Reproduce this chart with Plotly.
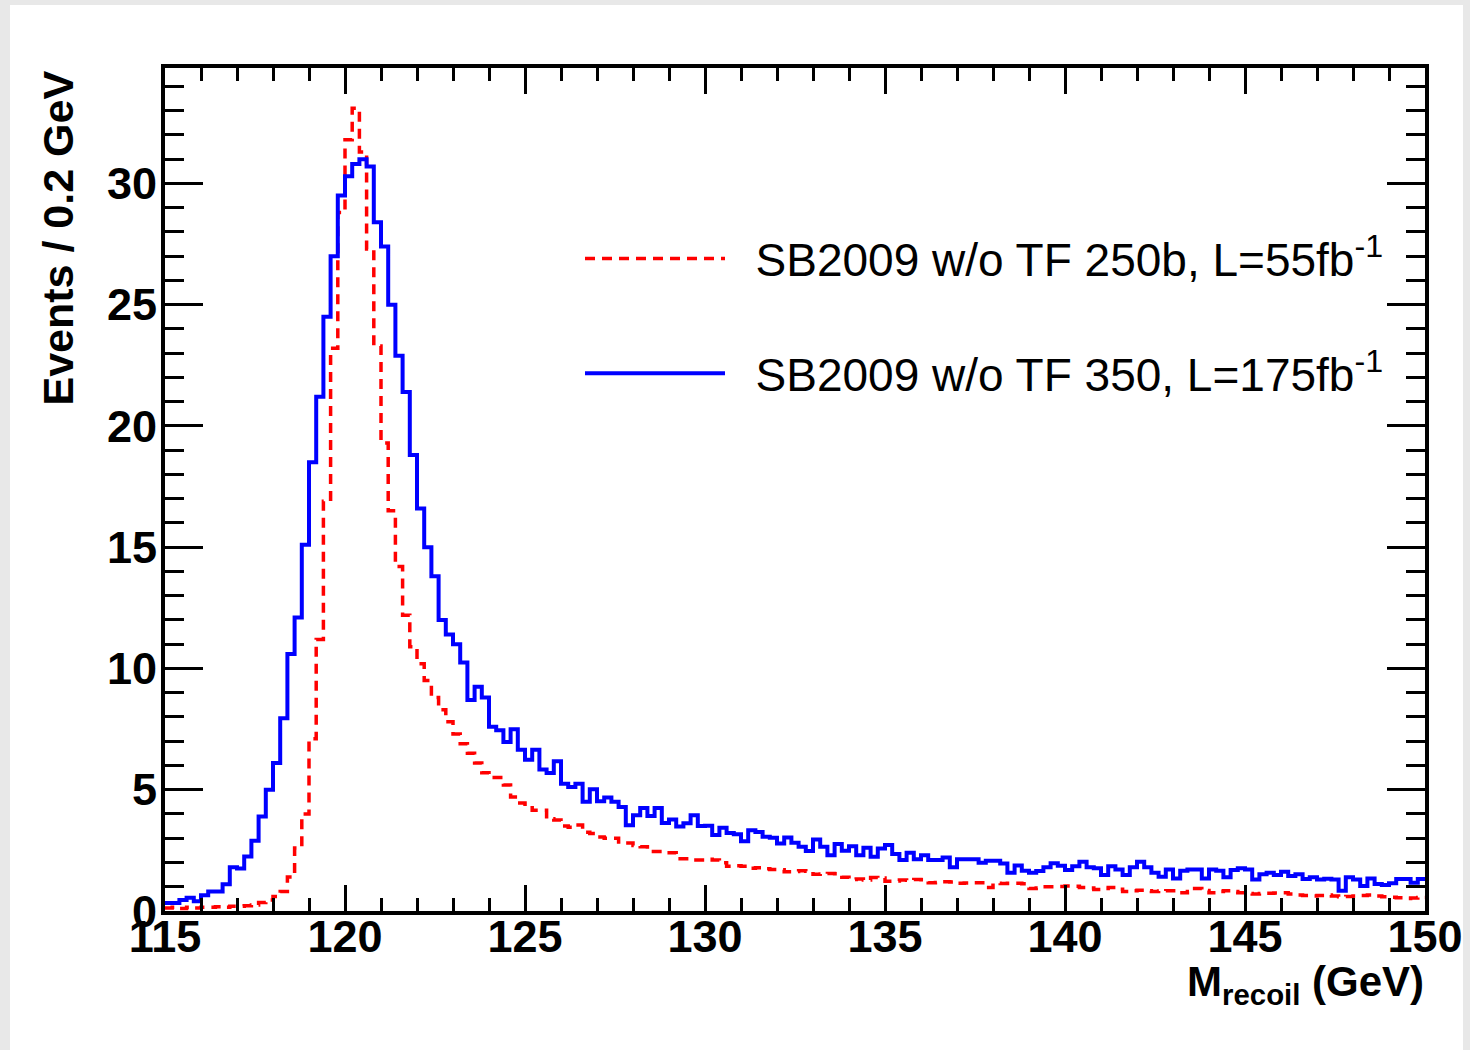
import plotly.graph_objects as go

# ---- data ----
x_min = 115.0
bin_width = 0.2  # GeV per bin, 175 bins from 115 to 150

red_250b = [0.12,0.15,0.10,0.15,0.12,0.15,0.15,0.18,0.15,0.20,
            0.20,0.22,0.25,0.35,0.45,0.60,0.80,1.40,2.60,4.00,
            7.10,11.2,16.9,23.2,28.8,31.8,33.1,31.3,27.3,23.3,
            19.3,16.5,14.2,12.2,10.9,10.2,9.5,8.8,8.3,7.8,
            7.3,6.9,6.5,6.1,5.7,5.5,5.5,5.2,4.7,4.45,
            4.4,4.15,4.15,3.8,3.75,3.5,3.45,3.55,3.25,3.2,
            3.05,3.0,3.0,2.85,2.8,2.7,2.65,2.45,2.45,2.4,
            2.4,2.15,2.15,2.1,2.1,2.13,2.1,1.99,1.85,1.87,
            1.85,1.76,1.78,1.74,1.71,1.70,1.62,1.63,1.66,1.64,
            1.52,1.53,1.55,1.54,1.39,1.30,1.32,1.28,1.38,1.36,
            1.23,1.24,1.28,1.27,1.30,1.29,1.17,1.18,1.21,1.20,
            1.14,1.15,1.17,1.16,0.97,1.14,1.13,1.14,1.14,1.12,
            0.93,0.95,1.00,1.00,1.01,1.03,1.02,0.97,0.95,0.89,
            0.93,0.97,0.90,0.80,0.83,0.86,0.83,0.80,0.82,0.84,
            0.84,0.75,0.80,0.93,0.85,0.75,0.80,0.84,0.80,0.75,
            0.72,0.70,0.72,0.73,0.74,0.75,0.70,0.66,0.64,0.62,
            0.64,0.66,0.62,0.59,0.60,0.62,0.64,0.66,0.62,0.59,
            0.57,0.55,0.52,0.54,0.56]

blue_350 = [0.33,0.33,0.45,0.55,0.40,0.65,0.80,0.80,1.10,1.80,
            1.75,2.25,2.90,3.90,5.00,6.10,7.95,10.6,12.1,15.1,
            18.5,21.2,24.5,27.0,29.5,30.3,30.8,31.0,30.7,28.4,
            27.4,25.0,22.9,21.4,18.8,16.6,15.0,13.8,12.0,11.4,
            11.0,10.25,8.7,9.25,8.8,7.6,7.45,6.97,7.49,6.65,
            6.24,6.65,5.83,5.69,6.17,5.25,5.11,5.25,4.50,5.02,
            4.53,4.68,4.50,4.29,3.54,3.95,4.25,3.92,4.25,3.63,
            3.77,3.48,3.62,3.95,3.50,3.52,3.13,3.43,3.22,3.16,
            2.88,3.33,3.26,3.06,3.02,2.78,3.03,2.81,2.65,2.47,
            2.95,2.65,2.30,2.76,2.48,2.67,2.30,2.61,2.24,2.58,
            2.72,2.35,2.10,2.40,2.13,2.30,2.10,2.10,2.21,1.80,
            2.13,2.13,2.13,1.99,2.07,2.07,1.96,1.58,1.88,1.66,
            1.58,1.65,1.80,1.97,1.87,1.69,1.85,2.03,1.80,1.76,
            1.48,1.85,1.71,1.48,1.80,2.03,1.80,1.58,1.41,1.71,
            1.34,1.66,1.71,1.71,1.34,1.71,1.66,1.39,1.69,1.76,
            1.71,1.30,1.52,1.58,1.48,1.62,1.44,1.52,1.32,1.39,
            1.30,1.33,1.30,0.84,1.39,1.30,1.03,1.34,1.11,1.07,
            1.14,1.32,1.32,1.17,1.32]

label_red = "SB2009 w/o TF 250b, L=55fb<sup>-1</sup>"
label_blue = "SB2009 w/o TF 350, L=175fb<sup>-1</sup>"
x_title = "M<sub>recoil</sub> (GeV)"
y_title = "Events / 0.2 GeV"

n_bins = len(blue_350)
edges = [x_min + bin_width * i for i in range(n_bins + 1)]


def step(vals):
    return edges, list(vals) + [vals[-1]]


FONT = "Liberation Sans, Arial, Helvetica, sans-serif"
GAP = "\u00a0\u00a0"  # space between legend sample and its text

fig = go.Figure()
xr, yr = step(red_250b)
fig.add_trace(go.Scatter(x=xr, y=yr, mode="lines", line_shape="hv",
                         line=dict(color="#ff0000", width=3.5, dash="10px,7px"),
                         name=GAP + label_red, legendgroup="a"))
xb, yb = step(blue_350)
fig.add_trace(go.Scatter(x=xb, y=yb, mode="lines", line_shape="hv",
                         line=dict(color="#0000ff", width=4),
                         name=GAP + label_blue, legendgroup="b"))

W, H = 1470, 1050
L, R, T, B = 165, 45, 68, 139
pw, ph = W - L - R, H - T - B


def px(xp):
    return (xp - L) / pw


def py(yp):
    return (H - B - yp) / ph


axis_common = dict(showgrid=False, zeroline=False, showline=True, linecolor="black",
                   linewidth=4, mirror="allticks", ticks="inside", tickcolor="black",
                   tickwidth=3, automargin=False,
                   tickfont=dict(family=FONT, size=45, color="black", weight="bold"))

fig.update_xaxes(range=[115, 150], tick0=115, dtick=5, ticklen=26, ticklabelstandoff=-17,
                 minor=dict(dtick=1, ticklen=13, ticks="inside", tickcolor="black", tickwidth=3),
                 **axis_common)
fig.update_yaxes(range=[0, 34.76], tick0=0, dtick=5, ticklen=38, ticklabelstandoff=-5,
                 minor=dict(dtick=1, ticklen=19, ticks="inside", tickcolor="black", tickwidth=3),
                 **axis_common)

fig.update_layout(
    width=W, height=H,
    margin=dict(l=L, r=R, t=T, b=B, pad=0, autoexpand=False),
    paper_bgcolor="#e8e8e8",
    plot_bgcolor="white",
    showlegend=True,
    legend=dict(x=px(580), y=py(222), xanchor="left", yanchor="top",
                bgcolor="rgba(0,0,0,0)", borderwidth=0,
                font=dict(family=FONT, size=46, color="black"),
                itemwidth=140, tracegroupgap=52, traceorder="grouped"),
    shapes=[dict(type="rect", xref="paper", yref="paper", layer="below",
                 x0=px(10), x1=px(1463), y0=py(H + 5), y1=py(5),
                 fillcolor="white", line=dict(width=0))],
    annotations=[
        dict(text=y_title, xref="paper", yref="paper", x=px(57), y=py(69),
             xanchor="center", yanchor="top", textangle=-90, showarrow=False,
             font=dict(family=FONT, size=43, color="black", weight="bold")),
        dict(text=x_title, xref="paper", yref="paper", x=px(1426), y=py(956),
             xanchor="right", yanchor="top", showarrow=False,
             font=dict(family=FONT, size=42, color="black", weight="bold")),
    ],
)

fig.write_html("out.html")
